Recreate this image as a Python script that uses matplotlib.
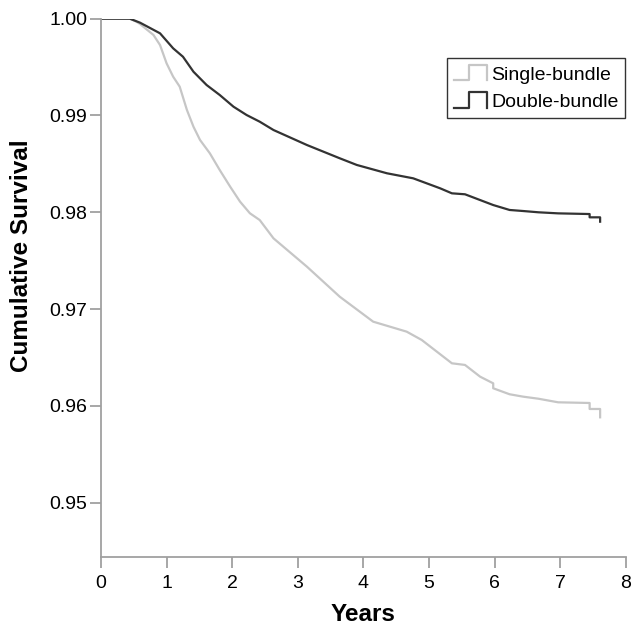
import matplotlib
matplotlib.use("Agg")
import matplotlib.pyplot as plt
from matplotlib.legend_handler import HandlerBase
from matplotlib.lines import Line2D

plt.rcParams['font.family'] = ['Liberation Sans', 'DejaVu Sans']

# Data (years, cumulative survival)
single_years = [0.0, 0.44, 0.54, 0.595, 0.80, 0.90, 1.00, 1.10, 1.20, 1.31, 1.41, 1.51,
                1.66, 1.81, 1.97, 2.12, 2.27, 2.42, 2.63, 3.14, 3.64, 4.15, 4.66, 4.89,
                5.35, 5.55, 5.78, 5.98, 5.98, 6.23, 6.44, 6.67, 6.97, 7.45, 7.45, 7.61,
                7.61]
single_surv = [1.0, 1.0, 0.99969, 0.99945, 0.99832, 0.99728, 0.99539, 0.99401, 0.99298,
               0.99057, 0.98884, 0.98747, 0.98609, 0.98437, 0.98264, 0.98110, 0.97990,
               0.97920, 0.97731, 0.97438, 0.97128, 0.96870, 0.96767, 0.96681, 0.96440,
               0.96423, 0.96302, 0.96233, 0.96182, 0.96120, 0.96095, 0.96074, 0.96037,
               0.96030, 0.95968, 0.95968, 0.95882]

double_years = [0.0, 0.44, 0.595, 0.90, 1.10, 1.25, 1.41, 1.61, 1.81, 2.02, 2.22, 2.42,
                2.63, 3.14, 3.64, 3.90, 4.36, 4.76, 5.17, 5.35, 5.55, 5.98, 6.23, 6.44,
                6.67, 6.97, 7.45, 7.45, 7.61, 7.61]
double_surv = [1.0, 1.0, 0.99959, 0.99849, 0.99694, 0.99607, 0.99452, 0.99315, 0.99212,
               0.99091, 0.99005, 0.98936, 0.98850, 0.98695, 0.98558, 0.98489, 0.98403,
               0.98351, 0.98248, 0.98196, 0.98186, 0.98075, 0.98024, 0.98013, 0.98000,
               0.97989, 0.97982, 0.97948, 0.97948, 0.97903]

x_ticks = [0, 1, 2, 3, 4, 5, 6, 7, 8]
y_ticks = [0.95, 0.96, 0.97, 0.98, 0.99, 1.00]
y_tick_labels = ["0.95", "0.96", "0.97", "0.98", "0.99", "1.00"]

light = "#c6c6c6"
dark = "#333333"
axis_gray = "#a0a0a0"


class StepHandler(HandlerBase):
    def create_artists(self, legend, orig_handle, xdescent, ydescent, width, height,
                       fontsize, trans):
        x0 = -xdescent
        y0 = -ydescent
        lo = y0 + height * 0.1
        hi = y0 + height * 1.0
        xs = [x0, x0 + width * 0.45, x0 + width * 0.45, x0 + width, x0 + width]
        ys = [lo, lo, hi, hi, lo]
        ln = Line2D(xs, ys, color=orig_handle.get_color(),
                    linewidth=orig_handle.get_linewidth(), transform=trans)
        return [ln]


W, H = 633, 628
fig = plt.figure(figsize=(W / 100, H / 100), dpi=100)
ax = fig.add_axes([101 / W, 1 - 556.7 / H, (625.7 - 101) / W, (556.7 - 18.7) / H])

l1, = ax.plot(single_years, single_surv, color=light, lw=1.6, label="Single-bundle")
l2, = ax.plot(double_years, double_surv, color=dark, lw=1.6, label="Double-bundle")

ax.set_xlim(0, 8)
ax.set_ylim(0.94442, 1.0)
ax.set_xticks(x_ticks)
ax.set_yticks(y_ticks)
ax.set_yticklabels(y_tick_labels)

for s in ["top", "right"]:
    ax.spines[s].set_visible(False)
for s in ["left", "bottom"]:
    ax.spines[s].set_color(axis_gray)
    ax.spines[s].set_linewidth(1.3)

ax.tick_params(axis="x", length=8, width=1.3, color=axis_gray, labelsize=14, pad=5)
ax.tick_params(axis="y", length=8, width=1.3, color=axis_gray, labelsize=14, pad=2)

fig.text(363.5 / W, 1 - 621 / H, "Years", fontsize=17.5, fontweight="bold",
         ha="center", va="baseline")
fig.text(28 / W, 1 - 256 / H, "Cumulative Survival", fontsize=17.5, fontweight="bold",
         ha="center", va="baseline", rotation=90, rotation_mode="anchor")

leg = ax.legend(handles=[l1, l2], loc="upper right", bbox_to_anchor=(0.999, 0.927),
                fontsize=14, frameon=True, fancybox=False, edgecolor="black",
                handler_map={Line2D: StepHandler()}, handlelength=1.7,
                handleheight=1.0, handletextpad=0.2, borderpad=0.35,
                labelspacing=0.4, borderaxespad=0.0)
leg.get_frame().set_linewidth(1.0)

fig.savefig("out.png", dpi=100)
